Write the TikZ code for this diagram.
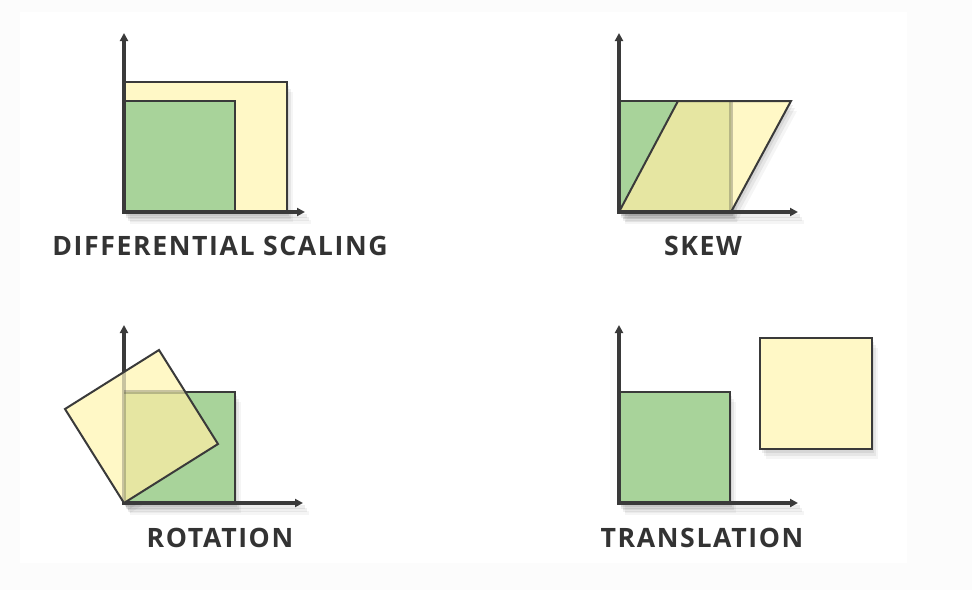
\documentclass[tikz,border=0pt]{standalone}
\usepackage{fontspec}
\setmainfont{Open Sans}
\usetikzlibrary{arrows.meta}
\definecolor{grn}{HTML}{A8D39A}
\definecolor{ylw}{HTML}{FFF8C6}
\definecolor{ovl}{HTML}{E6E6A2}
\definecolor{ink}{HTML}{3A3A3A}
\definecolor{txt}{HTML}{333333}
\newcommand\mysoftshadow[1]{%
  \fill[black,fill opacity=0.07,shift={(2,4)}] #1;
  \fill[black,fill opacity=0.06,shift={(4,7)}] #1;
  \fill[black,fill opacity=0.04,shift={(6,10)}] #1;}
\begin{document}
\begin{tikzpicture}[x=0.75pt,y=-0.75pt,
  axis/.style={draw=ink,line width=2.4pt,line join=miter,{Triangle[length=6pt,width=6pt]}-{Triangle[length=6pt,width=6pt]}},
  shapeline/.style={draw=ink,line width=1.5pt,line join=miter},
  faint/.style={draw=ink,draw opacity=0.28,line width=2.4pt},
  lbl/.style={font=\fontsize{20}{20}\bfseries\addfontfeature{LetterSpace=6}\selectfont,text=txt,inner sep=0pt,anchor=base}]
\useasboundingbox (0,0) rectangle (972,590);
\fill[black!1] (0,0) rectangle (972,590);
\fill[white] (20,12) rectangle (907,563);

% ---------- Differential scaling ----------
\mysoftshadow{(124,82) rectangle (287,212)}
\mysoftshadow{(124,210) rectangle (305,214)}
\fill[ylw] (124,82) rectangle (287,212);
\draw[shapeline] (124,82) rectangle (287,212);
\fill[grn] (124,101) rectangle (235,212);
\draw[shapeline] (124,101) rectangle (235,212);
\draw[axis] (124,33) -- (124,212) -- (305,212);
\node[lbl] (t1) at (220,255) {DIFFERENTIAL SCALING};

% ---------- Skew ----------
\mysoftshadow{(619,212) -- (678,101) -- (791,101) -- (731,212) -- cycle}
\mysoftshadow{(619,101) rectangle (731,212)}
\mysoftshadow{(619,210) rectangle (798,214)}
\fill[grn] (619,101) rectangle (731,212);
\draw[shapeline] (619,101) rectangle (731,212);
\fill[ylw] (619,212) -- (678,101) -- (791,101) -- (731,212) -- cycle;
\fill[ovl] (619,212) -- (678,101) -- (731,101) -- (731,212) -- cycle;
\draw[faint] (731,101) -- (731,212);
\draw[shapeline] (619,212) -- (678,101) -- (791,101) -- (731,212) -- cycle;
\draw[axis] (619,33) -- (619,212) -- (798,212);
\node[lbl] (t2) at (703,255) {SKEW};

% ---------- Rotation ----------
\mysoftshadow{(124,503) -- (218,444) -- (159,350) -- (65,409) -- cycle}
\mysoftshadow{(124,392) rectangle (235,503)}
\mysoftshadow{(124,501) rectangle (303,505)}
\fill[grn] (124,392) rectangle (235,503);
\draw[shapeline] (124,392) rectangle (235,503);
\draw[axis] (124,325) -- (124,503) -- (303,503);
\fill[ylw] (124,503) -- (218,444) -- (159,350) -- (65,409) -- cycle;
\begin{scope}
  \clip (124,503) -- (218,444) -- (159,350) -- (65,409) -- cycle;
  \fill[ovl] (124,392) rectangle (235,503);
  \draw[faint] (124,325) -- (124,503);
  \draw[faint] (124,392) -- (235,392);
\end{scope}
\draw[shapeline] (124,503) -- (218,444) -- (159,350) -- (65,409) -- cycle;
\node[lbl] (t3) at (220,547) {ROTATION};

% ---------- Translation ----------
\mysoftshadow{(760,338) rectangle (872,449)}
\mysoftshadow{(619,392) rectangle (730,503)}
\mysoftshadow{(619,501) rectangle (798,505)}
\fill[ylw] (760,338) rectangle (872,449);
\draw[shapeline] (760,338) rectangle (872,449);
\fill[grn] (619,392) rectangle (730,503);
\draw[shapeline] (619,392) rectangle (730,503);
\draw[axis] (619,325) -- (619,503) -- (798,503);
\node[lbl] (t4) at (702,547) {TRANSLATION};
\end{tikzpicture}
\end{document}
